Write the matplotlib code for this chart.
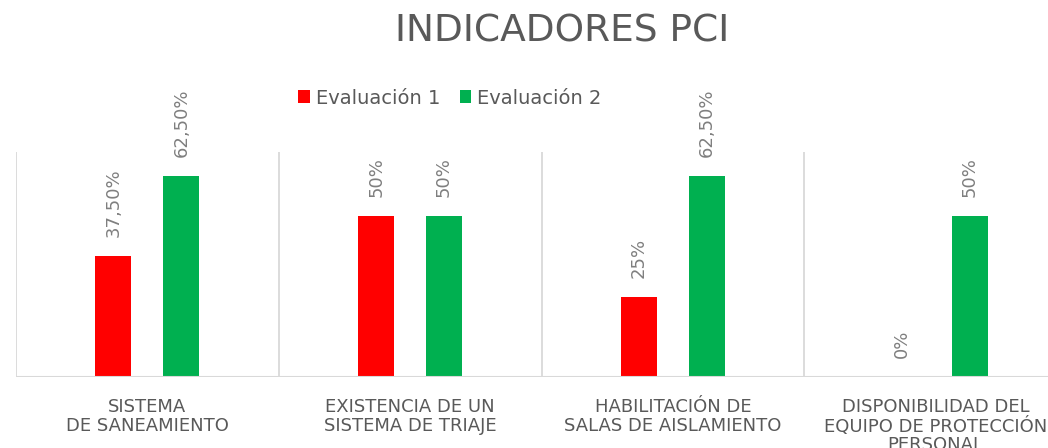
import matplotlib.pyplot as plt
import numpy as np

plt.rcParams['font.family'] = ['DejaVu Sans']

categorias = ['SISTEMA\nDE SANEAMIENTO', 'EXISTENCIA DE UN\nSISTEMA DE TRIAJE',
              'HABILITACIÓN DE\nSALAS DE AISLAMIENTO',
              'DISPONIBILIDAD DEL\nEQUIPO DE PROTECCIÓN\nPERSONAL']
eval1 = [0.375, 0.50, 0.25, 0.0]
eval2 = [0.625, 0.50, 0.625, 0.50]
etq1 = ['37,50%', '50%', '25%', '0%']
etq2 = ['62,50%', '50%', '62,50%', '50%']

gris = '#595959'
fig = plt.figure(figsize=(10.48, 4.48), dpi=100)
ax = fig.add_axes([16/1048, 71/448, 1051/1048, 225/448])

x = np.arange(len(categorias))
w = 0.137
b1 = ax.bar(x - 0.129, eval1, w, color='#FF0000', label='Evaluación 1')
b2 = ax.bar(x + 0.129, eval2, w, color='#00B050', label='Evaluación 2')

for barras, etqs in ((b1, etq1), (b2, etq2)):
    for b, t in zip(barras, etqs):
        ax.annotate(t, (b.get_x() + b.get_width()/2, b.get_height()),
                    xytext=(0, 19), textcoords='offset pixels', rotation=90,
                    ha='center', va='bottom', fontsize=13, color='#7f7f7f')

ax.set_xlim(-0.5, 3.5)
ax.set_ylim(0, 0.7)
for s in ax.spines.values():
    s.set_visible(False)
ax.axhline(0, color='#d9d9d9', lw=1.5)
for v in np.arange(-0.5, 4, 1):
    ax.axvline(v, color='#d9d9d9', lw=1.3)
ax.set_yticks([])
ax.set_xticks(x)
ax.set_xticklabels(categorias, fontsize=13, color=gris, linespacing=1.05)
ax.tick_params(axis='x', length=0, pad=15)

fig.text(562/1048, 1 - 31/448, 'INDICADORES PCI', ha='center', va='center',
         fontsize=27, color=gris)
fig.legend(loc='center', bbox_to_anchor=(450/1048, 1 - 98/448), ncol=2,
           frameon=False, fontsize=14, labelcolor=gris, handlelength=0.6,
           handleheight=0.6, handletextpad=0.3, columnspacing=1.0)

fig.savefig('out.png', dpi=100)
